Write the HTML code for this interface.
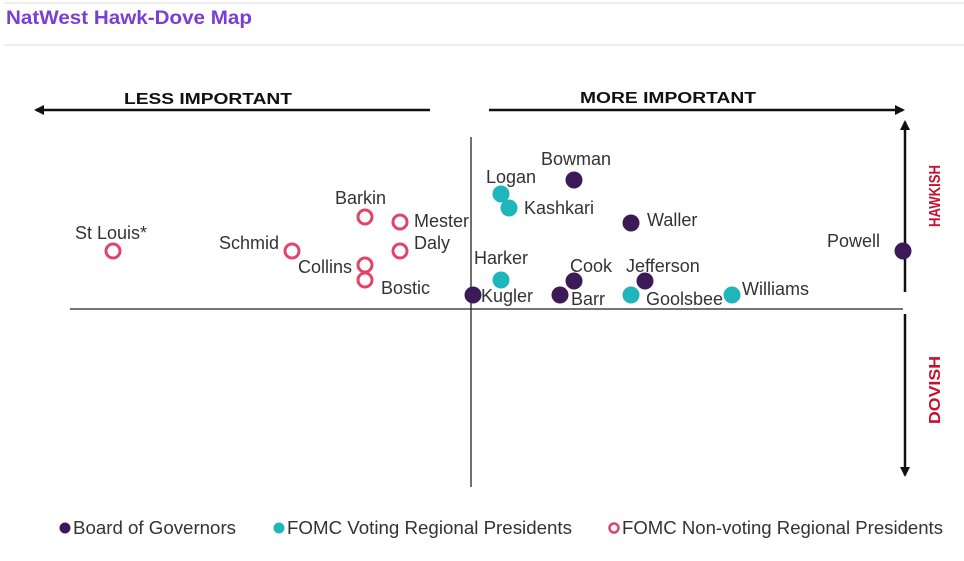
<!DOCTYPE html>
<html><head><meta charset="utf-8"><style>
body{margin:0;background:#fff;width:964px;height:556px;overflow:hidden;font-family:"Liberation Sans",sans-serif}
</style></head><body>
<svg width="964" height="556" xmlns="http://www.w3.org/2000/svg" style="font-family:'Liberation Sans',sans-serif">
<defs><marker id="ah" markerWidth="10" markerHeight="10" refX="8" refY="5" orient="auto" markerUnits="userSpaceOnUse"><path d="M0,0 L10,5 L0,10 z" fill="#111"/></marker></defs>
<line x1="4" y1="3" x2="964" y2="3" stroke="#ddd"/>
<text x="6" y="24" font-size="19" font-weight="bold" fill="#7a3fd1" textLength="246" lengthAdjust="spacingAndGlyphs">NatWest Hawk-Dove Map</text>
<line x1="4" y1="45" x2="964" y2="45" stroke="#ddd"/>
<line x1="430" y1="110" x2="36" y2="110" stroke="#111" stroke-width="2.5" marker-end="url(#ah)"/>
<line x1="489" y1="110" x2="903" y2="110" stroke="#111" stroke-width="2.5" marker-end="url(#ah)"/>
<text x="124" y="104" font-size="16" font-weight="bold" fill="#111" textLength="168" lengthAdjust="spacingAndGlyphs">LESS IMPORTANT</text>
<text x="580" y="103" font-size="16" font-weight="bold" fill="#111" textLength="176" lengthAdjust="spacingAndGlyphs">MORE IMPORTANT</text>
<line x1="905" y1="292" x2="905" y2="122" stroke="#111" stroke-width="2.5" marker-end="url(#ah)"/>
<line x1="905" y1="314" x2="905" y2="475" stroke="#111" stroke-width="2.5" marker-end="url(#ah)"/>
<text transform="translate(940,196) rotate(-90)" font-size="16" font-weight="bold" fill="#c8102e" text-anchor="middle" textLength="62" lengthAdjust="spacingAndGlyphs">HAWKISH</text>
<text transform="translate(940,390) rotate(-90)" font-size="16" font-weight="bold" fill="#c8102e" text-anchor="middle" textLength="68" lengthAdjust="spacingAndGlyphs">DOVISH</text>
<line x1="70" y1="309" x2="903" y2="309" stroke="#222" stroke-width="1.3"/>
<line x1="471" y1="137" x2="471" y2="487" stroke="#222" stroke-width="1.3"/>
<g id="pts"></g>
<g font-size="18" fill="#333">
<circle cx="65" cy="528" r="5.5" fill="#3b1a57"/>
<text x="73" y="534" textLength="163" lengthAdjust="spacingAndGlyphs">Board of Governors</text>
<circle cx="279" cy="528" r="5.5" fill="#1fb5bb"/>
<text x="287" y="534" textLength="285" lengthAdjust="spacingAndGlyphs">FOMC Voting Regional Presidents</text>
<circle cx="614" cy="528" r="4.5" fill="none" stroke="#e0456a" stroke-width="2.5"/>
<text x="622" y="534" textLength="321" lengthAdjust="spacingAndGlyphs">FOMC Non-voting Regional Presidents</text>
</g>
</svg>
<script>
const names=["St Louis*","Schmid","Barkin","Mester","Daly","Collins","Bostic","Kugler","Harker","Logan","Kashkari","Bowman","Waller","Cook","Barr","Jefferson","Goolsbee","Williams","Powell"];
const importance=[-358,-179,-106,-71,-71,-106,-106,2,30,30,38,103,160,103,89,174,160,261,432];
const hawkishness=[58,58,92,87,58,44,29,14,29,115,101,129,86,28,14,28,14,14,58];
const groups=["n","n","n","n","n","n","n","g","v","v","v","g","g","g","g","g","v","v","g"];
const labelPos=[[-38,-12,"start"],[-73,-2,"start"],[-30,-13,"start"],[14,5,"start"],[14,-2,"start"],[-67,8,"start"],[16,14,"start"],[8,7,"start"],[-27,-16,"start"],[-15,-11,"start"],[15,6,"start"],[-33,-15,"start"],[16,3,"start"],[-4,-9,"start"],[11,10,"start"],[-19,-9,"start"],[15,10,"start"],[10,0,"start"],[-76,-4,"start"]];
const x=v=>471+v, y=v=>309-v;
const col={g:"#3b1a57",v:"#1fb5bb",n:"#e0456a"};
const g=document.getElementById('pts'),NS="http://www.w3.org/2000/svg";
names.forEach((n,i)=>{
 const c=document.createElementNS(NS,'circle');
 
 
 c.setAttribute('cx',x(importance[i]));c.setAttribute('cy',y(hawkishness[i]));
 if(groups[i]=="n"){c.setAttribute('r',7);c.setAttribute('fill','#fff');c.setAttribute('stroke',col.n);c.setAttribute('stroke-width',3);}
 else{c.setAttribute('r',8.5);c.setAttribute('fill',col[groups[i]]);}
 g.appendChild(c);
 const t=document.createElementNS(NS,'text');
 
 
 t.setAttribute('x',x(importance[i])+labelPos[i][0]);t.setAttribute('y',y(hawkishness[i])+labelPos[i][1]);
 t.setAttribute('font-size','18');t.setAttribute('fill','#333');
 t.textContent=n;g.appendChild(t);
});
</script>
</body></html>
